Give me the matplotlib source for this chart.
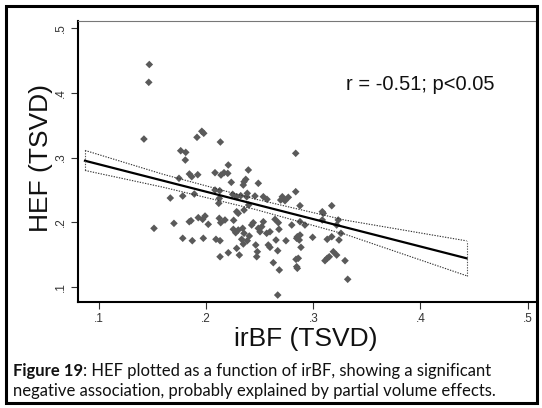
import matplotlib
matplotlib.use("Agg")
import matplotlib.pyplot as plt
from matplotlib.patches import Rectangle

# ---- data ----
irbf = [0.147, 0.1465, 0.142, 0.1915, 0.196, 0.1978, 0.2133, 0.2836, 0.1763, 0.181,
        0.1806, 0.2207, 0.2394, 0.1844, 0.1866, 0.1922, 0.2083, 0.2139, 0.2167, 0.2202,
        0.1747, 0.2235, 0.2354, 0.237, 0.2347, 0.2487, 0.1666, 0.1782, 0.189, 0.2083,
        0.2127, 0.2123, 0.2118, 0.2248, 0.2285, 0.2323, 0.2384, 0.2379, 0.2456, 0.2534,
        0.2568, 0.2711, 0.2696, 0.2736, 0.2767, 0.2836, 0.2876, 0.3172, 0.3084, 0.3093,
        0.1514, 0.170, 0.1843, 0.1859, 0.1927, 0.1968, 0.199, 0.202, 0.2123, 0.2136,
        0.2176, 0.2257, 0.2285, 0.230, 0.2354, 0.2397, 0.244, 0.2425, 0.2534, 0.2643,
        0.2674, 0.2799, 0.2876, 0.2922, 0.3084, 0.3218, 0.3233,
        0.1782, 0.1871, 0.1974, 0.2092, 0.213, 0.2207, 0.213, 0.2285, 0.231, 0.2347,
        0.2332, 0.2463, 0.2478, 0.2472, 0.258, 0.2596, 0.2668, 0.2627, 0.2683, 0.2652,
        0.2745, 0.2845, 0.2869, 0.2885, 0.2839, 0.286, 0.2851, 0.2845, 0.2668, 0.313,
        0.3172, 0.324, 0.3109, 0.313, 0.3149, 0.3187, 0.3218, 0.3296, 0.3321,
        0.2254, 0.2276, 0.230, 0.2341, 0.2354, 0.2487, 0.2503, 0.2519, 0.2565, 0.2596,
        0.268, 0.2851, 0.2876, 0.2994, 0.2403, 0.2384, 0.3258]
hef = [0.444, 0.4164, 0.3286, 0.3313, 0.3406, 0.3375, 0.324, 0.3065, 0.3105, 0.308,
       0.2961, 0.2884, 0.2807, 0.2745, 0.2703, 0.2734, 0.2765, 0.2729, 0.2765, 0.2755,
       0.2678, 0.2616, 0.2625, 0.2662, 0.2574, 0.2601, 0.2373, 0.2404, 0.2435, 0.2497,
       0.2486, 0.2368, 0.2291, 0.243, 0.2393, 0.2409, 0.2446, 0.2393, 0.2404, 0.2393,
       0.2353, 0.2393, 0.2342, 0.2331, 0.2384, 0.2471, 0.2254, 0.2254, 0.2161, 0.2136,
       0.1904, 0.1981, 0.2006, 0.2022, 0.2069, 0.2043, 0.2094, 0.1966, 0.2059, 0.1991,
       0.2033, 0.2028, 0.2161, 0.2136, 0.2187, 0.2265, 0.1991, 0.1955, 0.2006, 0.2043,
       0.1991, 0.1955, 0.2006, 0.1955, 0.2033, 0.1955, 0.2033,
       0.175, 0.1712, 0.175, 0.1734, 0.1712, 0.1526, 0.1464, 0.1594, 0.149, 0.1661,
       0.1734, 0.1646, 0.1542, 0.1464, 0.1646, 0.161, 0.1557, 0.1372, 0.1259, 0.1723,
       0.1712, 0.175, 0.1723, 0.161, 0.1424, 0.144, 0.1285, 0.131, 0.0871, 0.1734,
       0.1774, 0.1723, 0.1403, 0.144, 0.1464, 0.1542, 0.149, 0.1403, 0.1115,
       0.1889, 0.1836, 0.1878, 0.1904, 0.1827, 0.1904, 0.1851, 0.1929, 0.1827, 0.1851,
       0.1889, 0.1774, 0.180, 0.1765, 0.1785, 0.1712, 0.1827]

fit_x = [0.087, 0.443]
fit_y = [0.295, 0.144]
ci_x = [0.087, 0.16, 0.245, 0.33, 0.443]
ci_hi = [0.311, 0.274, 0.236, 0.203, 0.171]
ci_lo = [0.280, 0.254, 0.220, 0.181, 0.117]

xticks = [0.1, 0.2, 0.3, 0.4, 0.5]
yticks = [0.1, 0.2, 0.3, 0.4, 0.5]
tick_labels = [".1", ".2", ".3", ".4", ".5"]

annot = "r = -0.51; p<0.05"
xlabel = "irBF (TSVD)"
ylabel = "HEF (TSVD)"

# ---- figure ----
W, H = 542, 408
fig = plt.figure(figsize=(W / 100, H / 100), dpi=100)
fig.patch.set_facecolor("white")

ax = fig.add_axes([77.7 / W, 1 - 301.7 / H, (535.7 - 77.7) / W, (301.7 - 20.7) / H])
ax.set_xlim(0.0802, 0.5075)
ax.set_ylim(0.0768, 0.5118)

ax.scatter(irbf, hef, marker="D", s=15, color="#5a5a5a", edgecolors="none", zorder=3)

dot = (0, (1.2, 1.2))
ax.plot(fit_x, fit_y, color="black", lw=1.6, zorder=4)
ax.plot(ci_x, ci_hi, color="#333333", lw=0.8, ls=dot, zorder=4)
ax.plot(ci_x, ci_lo, color="#333333", lw=0.8, ls=dot, zorder=4)
ax.plot([ci_x[0], ci_x[0]], [ci_lo[0], ci_hi[0]], color="#555555", lw=0.8, ls=dot, zorder=4)
ax.plot([ci_x[-1], ci_x[-1]], [ci_lo[-1], ci_hi[-1]], color="#555555", lw=0.8, ls=dot, zorder=4)

ax.set_xticks(xticks)
ax.set_xticklabels(tick_labels)
ax.set_yticks(yticks)
ax.set_yticklabels(tick_labels, rotation=90, va="center")
ax.tick_params(axis="both", direction="out", length=5, width=0.8, color="#333333",
               labelsize=8.5, labelcolor="#333333", pad=3)
for lab in ax.get_xticklabels() + ax.get_yticklabels():
    lab.set_fontfamily("Liberation Sans")

for s in ["left", "bottom"]:
    ax.spines[s].set_color("black")
    ax.spines[s].set_linewidth(1.5)
for s in ["top", "right"]:
    ax.spines[s].set_color("#777777")
    ax.spines[s].set_linewidth(0.8)

fig.text(420 / W, 1 - 85 / H, annot, ha="center", va="center",
         fontsize=14.5, family="Liberation Sans", color="#111111")

fig.text(306 / W, 1 - 339 / H, xlabel, ha="center", va="center",
         fontsize=19, family="Liberation Sans", color="#111111")
fig.text(41 / W, 1 - 158 / H, ylabel, ha="center", va="center", rotation=90,
         fontsize=19, family="Liberation Sans", color="#111111")

# caption
cap_font = "Lato"
cap_size = 12.0
t1 = fig.text(13 / W, 1 - 371 / H, "Figure 19", ha="left", va="center",
              fontsize=cap_size, family=cap_font, weight="bold", color="#111111")
fig.canvas.draw()
bb = t1.get_window_extent()
fig.text(bb.x1 / W, 1 - 371 / H,
         ": HEF plotted as a function of irBF, showing a significant",
         ha="left", va="center", fontsize=cap_size, family=cap_font, color="#111111")
fig.text(13 / W, 1 - 391 / H,
         "negative association, probably explained by partial volume effects.",
         ha="left", va="center", fontsize=cap_size, family=cap_font, color="#111111")

# outer border
fig.patches.append(Rectangle((6 / W, 1 - 403 / H), (537 - 6) / W, (403 - 6) / H,
                             transform=fig.transFigure, fill=False,
                             edgecolor="black", lw=2.2))

fig.savefig("out.png", dpi=100)
